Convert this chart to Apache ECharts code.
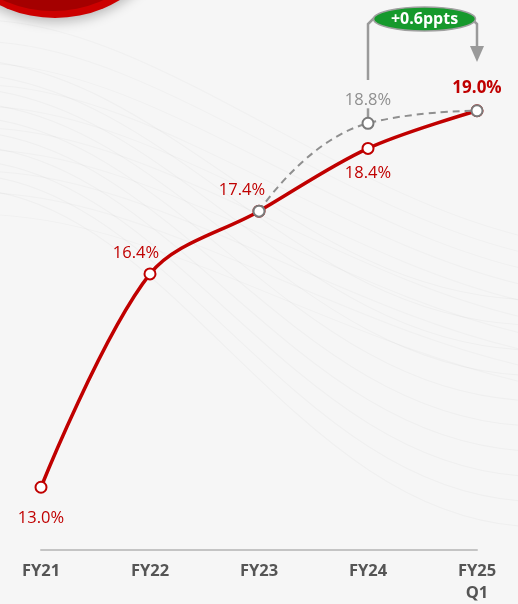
<!DOCTYPE html>
<html>
<head>
<meta charset="utf-8">
<script src="https://cdn.jsdelivr.net/npm/echarts@6/dist/echarts.min.js"></script>
<style>
  html, body { margin: 0; padding: 0; background: #f6f6f6; }
  #chart { width: 518px; height: 604px; }
</style>
</head>
<body>
<div id="chart"></div>
<script>
// Margin trend by period
const categories = ['FY21', 'FY22', 'FY23', 'FY24', 'FY25\nQ1'];
const reported = [13.0, 16.4, 17.4, 18.4, 19.0];
const adjusted = [null, null, 17.4, 18.8, 19.0];
const deltaText = '+0.6ppts';

const RED = '#c00000';
const GREY = '#8f8f8f';
const FONT = '"Open Sans", "Noto Sans", sans-serif';

// label placement per point of the main series
const redLabelPlace = [
  { position: 'bottom', distance: 16 },
  { position: 'top', distance: 6, offset: [-14, 0] },
  { position: 'top', distance: 6, offset: [-17, 0] },
  { position: 'bottom', distance: 10 },
  { position: 'top', distance: 8, fontWeight: 'bold', fontSize: 17 }
];

const chart = echarts.init(document.getElementById('chart'));

// faint decorative mesh of sweep lines in the background
const sweeps = [];
for (let i = 0; i < 10; i++) {
  const d = i * 18;
  sweeps.push({
    type: 'bezierCurve', silent: true, z: -10,
    shape: {
      x1: -20, y1: 60 + d * 0.8,
      x2: 540, y2: 300 + d * 1.4,
      cpx1: 180, cpy1: 80 + d * 0.8,
      cpx2: 300, cpy2: 300 + d * 1.4
    },
    style: { stroke: 'rgba(0,0,0,0.028)', lineWidth: 1.2, fill: null }
  });
  sweeps.push({
    type: 'bezierCurve', silent: true, z: -10,
    shape: {
      x1: -20, y1: 20 + d * 1.2,
      x2: 540, y2: 240 + d * 0.9,
      cpx1: 150, cpy1: 20 + d * 1.2,
      cpx2: 340, cpy2: 200 + d * 0.9
    },
    style: { stroke: 'rgba(0,0,0,0.022)', lineWidth: 1.2, fill: null }
  });
}

chart.setOption({
  backgroundColor: '#f6f6f6',
  animation: false,
  grid: { left: 41, right: 41, top: 48, bottom: 48 },
  xAxis: {
    type: 'category',
    data: categories,
    boundaryGap: false,
    axisLine: { lineStyle: { color: '#c4c4c4', width: 2 } },
    axisTick: { show: false },
    axisLabel: {
      color: '#555', fontFamily: FONT, fontWeight: 'bold', fontSize: 16.5,
      margin: 10, lineHeight: 22, interval: 0
    }
  },
  yAxis: {
    type: 'value', min: 12, max: 20,
    show: false, splitLine: { show: false }
  },
  graphic: sweeps,
  series: [
    {
      type: 'line',
      data: reported.map((v, i) => ({
        value: v,
        label: Object.assign({ show: true }, redLabelPlace[i])
      })),
      smooth: 0.33,
      z: 3,
      lineStyle: { color: RED, width: 3.5 },
      symbol: 'circle',
      symbolSize: 11,
      itemStyle: { color: '#fff', borderColor: RED, borderWidth: 2 },
      label: {
        show: true, color: RED, fontFamily: FONT, fontSize: 16.5,
        formatter: p => p.value.toFixed(1) + '%'
      }
    },
    {
      type: 'line',
      data: adjusted.map((v, i) => ({
        value: v,
        label: { show: i === 3 }
      })),
      smooth: 0.5,
      z: 4,
      lineStyle: { color: GREY, width: 2, type: [7, 5] },
      symbol: 'circle',
      symbolSize: 11,
      itemStyle: { color: '#fff', borderColor: '#7a7a7a', borderWidth: 2 },
      label: {
        position: 'top', distance: 8, color: GREY, fontFamily: FONT, fontSize: 16.5,
        formatter: p => p.value.toFixed(1) + '%'
      }
    }
  ]
});

// bracket annotation from the adjusted FY24 value to the latest period
const pA = chart.convertToPixel({ seriesIndex: 1 }, [3, adjusted[3]]);
const pB = chart.convertToPixel({ seriesIndex: 0 }, [4, reported[4]]);
const topY = 18;
const pillRx = 51, pillRy = 12;
const pillCx = (pA[0] + pB[0]) / 2 + 2;
const bracketColor = '#9a9a9a';
const r = 6;

chart.setOption({
  graphic: sweeps.concat([
    // decorative red disc in the corner
    {
      type: 'circle', silent: true, z: 5,
      shape: { cx: 55, cy: -108, r: 126 },
      style: { fill: '#cc0000', shadowBlur: 12, shadowColor: 'rgba(0,0,0,0.25)', shadowOffsetY: 4 }
    },
    {
      type: 'circle', silent: true, z: 6,
      shape: { cx: 53, cy: -111, r: 122 },
      style: { fill: '#a40000' }
    },
    // stub from the adjusted point up to its label
    {
      type: 'line', silent: true, z: 2,
      shape: { x1: pA[0], y1: pA[1] - 4, x2: pA[0], y2: pA[1] - 15 },
      style: { stroke: bracketColor, lineWidth: 2.5 }
    },
    // bracket path
    {
      type: 'polyline', silent: true, z: 2,
      shape: {
        points: [
          [pA[0], topY + 62], [pA[0], topY + r], [pA[0] + r, topY],
          [pB[0] - r, topY], [pB[0], topY + r], [pB[0], topY + 30]
        ]
      },
      style: { stroke: bracketColor, lineWidth: 2.5, fill: null }
    },
    // arrow head
    {
      type: 'polygon', silent: true, z: 2,
      shape: { points: [[pB[0] - 7, topY + 28], [pB[0] + 7, topY + 28], [pB[0], topY + 44]] },
      style: { fill: bracketColor }
    },
    // delta pill
    {
      type: 'ellipse', silent: true, z: 7,
      shape: { cx: pillCx, cy: topY + 1, rx: pillRx, ry: pillRy },
      style: { fill: '#16992c', stroke: '#a0a0a0', lineWidth: 1.5 }
    },
    {
      type: 'text', silent: true, z: 8,
      x: pillCx, y: topY + 1,
      style: {
        text: deltaText, fill: '#fff', font: 'bold 16px ' + FONT,
        align: 'center', verticalAlign: 'middle'
      }
    }
  ])
});
</script>
</body>
</html>
